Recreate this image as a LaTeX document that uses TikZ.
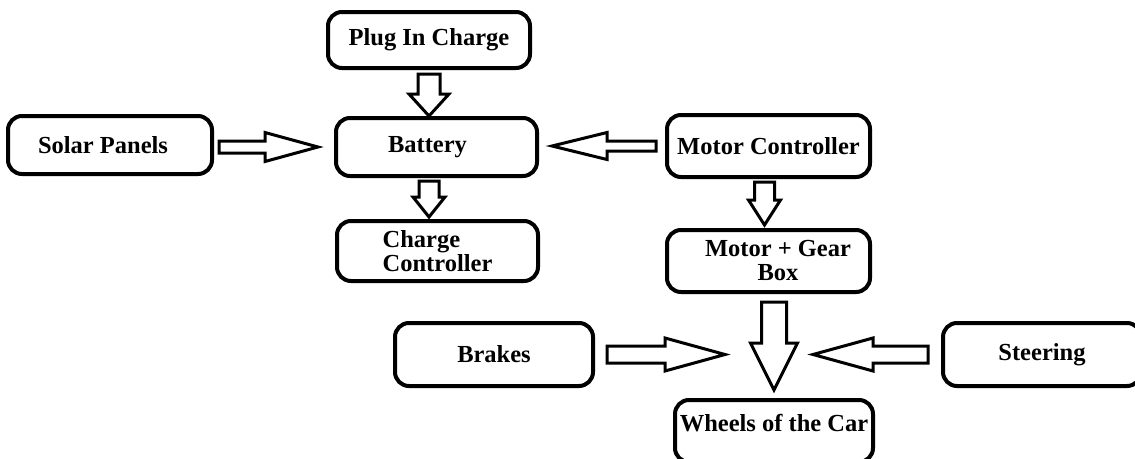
\documentclass[tikz,border=0pt]{standalone}
\usepackage{fontspec}
\setmainfont{Liberation Serif}
\usetikzlibrary{calc}
\tikzset{
  block/.style={draw, line width=4pt, rounded corners=14pt, inner sep=0pt, align=center,
    font=\bfseries\fontsize{24.5}{24}\selectfont},
  fatarrow/.style n args={3}{draw, line width=3pt, line join=miter, to path={
    let \p1=(\tikztostart), \p2=(\tikztotarget),
        \n1={atan2(\y2-\y1,\x2-\x1)},
        \n2={veclen(\x2-\x1,\y2-\y1)-#3} in
    ($(\p1)+(\n1+90:#1)$) -- ($(\p1)+(\n1:\n2)+(\n1+90:#1)$)
    -- ($(\p1)+(\n1:\n2)+(\n1+90:#2)$) -- (\p2)
    -- ($(\p1)+(\n1:\n2)+(\n1-90:#2)$) -- ($(\p1)+(\n1:\n2)+(\n1-90:#1)$)
    -- ($(\p1)+(\n1-90:#1)$) -- cycle}}
}
\begin{document}
\begin{tikzpicture}[x=1pt,y=-1pt]
\useasboundingbox[fill=white] (0,0) rectangle (1135,458);

\node[block, minimum width=202pt, minimum height=56pt] (plug) at (429,40) {Plug In Charge};
\node[block, minimum width=201pt, minimum height=58pt] (battery) at (436.5,147) {Battery\hspace*{18pt}};
\node[block, minimum width=204pt, minimum height=58pt] (solar) at (110,145) {Solar Panels\hspace*{14pt}};
\node[block, minimum width=203pt, minimum height=62pt] (motorctl) at (768.5,146) {Motor Controller};
\node[block, minimum width=201pt, minimum height=60pt, align=left] (chargectl) at (437.5,251) {Charge\\Controller};
\node[block, minimum width=203pt, minimum height=62pt] (gearbox) at (768.5,261) {\hspace*{19pt}Motor + Gear\\\hspace*{19pt}Box};
\node[block, minimum width=198pt, minimum height=63pt] (brakes) at (494,354.5) {Brakes};
\node[block, minimum width=198pt, minimum height=63pt] (steering) at (1042,354.5) {Steering};
\node[block, minimum width=198pt, minimum height=62pt, text height=15pt, text depth=15pt] (wheels) at (774,431) {Wheels of the Car};

\coordinate (brakein) at (725,354.5);
\coordinate (steerin) at (813,354.5);

\draw[fatarrow={11pt}{20pt}{22pt}] ([yshift=-4pt]plug.south) to (plug.south |- battery.north);
\draw[fatarrow={6pt}{14.5pt}{53pt}] ([xshift=5pt]solar.east |- battery.west) to ([xshift=-16pt]battery.west);
\draw[fatarrow={5pt}{13.5pt}{55pt}] ([xshift=-9pt]motorctl.west) to ([xshift=13pt]battery.east |- motorctl.west);
\draw[fatarrow={10pt}{16pt}{20pt}] ([yshift=-3pt]plug.south |- battery.south) to ([yshift=2pt]plug.south |- chargectl.north);
\draw[fatarrow={10pt}{16pt}{25pt}] ([xshift=-4pt,yshift=-3pt]motorctl.south) to ([xshift=-4pt,yshift=3pt]gearbox.north);
\draw[fatarrow={12.5pt}{23.5pt}{47pt}] ([yshift=-8pt]wheels.north |- gearbox.south) to ([yshift=8pt]wheels.north);
\draw[fatarrow={8.5pt}{16.5pt}{60pt}] ([xshift=12pt]brakes.east) to (brakein);
\draw[fatarrow={8.5pt}{16.5pt}{60pt}] ([xshift=-13pt]steering.west) to (steerin);
\end{tikzpicture}
\end{document}
